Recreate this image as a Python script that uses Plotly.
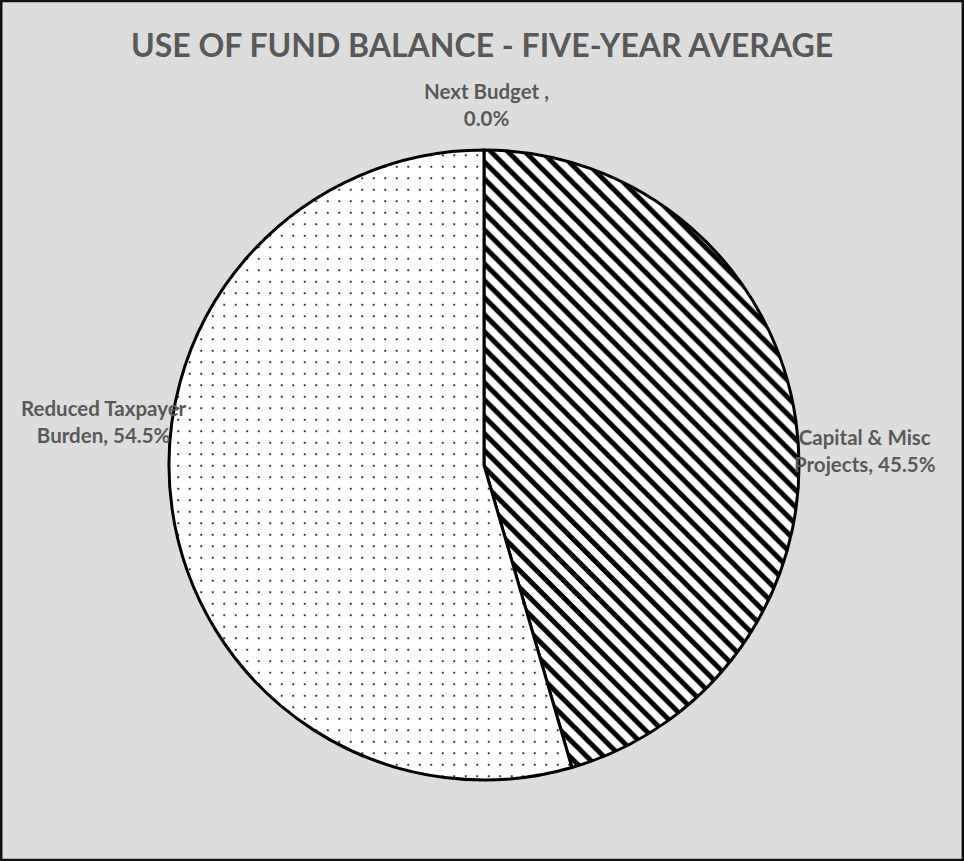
import plotly.graph_objects as go

labels = ["Next Budget ", "Capital & Misc Projects", "Reduced Taxpayer Burden"]
label_lines = [["Next Budget ,", ""], ["Capital & Misc", "Projects, "], ["Reduced Taxpayer", "Burden, "]]
values = [0.0, 45.5, 54.5]
title_text = "USE OF FUND BALANCE - FIVE-YEAR AVERAGE"

W, H = 964, 861
cx, cy, r = 484, 465, 315
FONT = "Lato"
LABEL_COLOR = "#595959"

total = sum(values)
pct = [v / total * 100 for v in values]
label_texts = [f"<b>{a}<br>{b}{p:.1f}%</b>" for (a, b), p in zip(label_lines, pct)]
# label block centres (paper pixels, from top-left)
label_pos = [(486, 104), (865, 450), (104, 421)]

fig = go.Figure()
fig.add_trace(go.Pie(
    labels=labels,
    values=values,
    textinfo="none",
    sort=False,
    direction="clockwise",
    rotation=0,
    showlegend=False,
    marker=dict(
        colors=["white", "white", "white"],
        line=dict(color="black", width=3),
        pattern=dict(
            shape=["", "\\", "."],
            fgcolor="black",
            bgcolor="white",
            size=[10, 12, 11.5],
            solidity=[0.3, 0.42, 0.026],
            fillmode="replace",
        ),
    ),
    domain=dict(x=[(cx - r) / W, (cx + r) / W], y=[(H - cy - r) / H, (H - cy + r) / H]),
))

annotations = []
for t, (px, py) in zip(label_texts, label_pos):
    annotations.append(dict(
        text=t, xref="paper", yref="paper", x=px / W, y=1 - py / H,
        xanchor="center", yanchor="middle", showarrow=False, align="center",
        font=dict(family=FONT, size=20.5, color=LABEL_COLOR),
    ))

fig.update_layout(
    width=W, height=H,
    margin=dict(l=0, r=0, t=0, b=0),
    paper_bgcolor="#dddddd",
    plot_bgcolor="#dddddd",
    title=dict(text="<b>" + title_text + "</b>", x=0.5, xanchor="center", y=1 - 46 / H, yanchor="middle",
               font=dict(family=FONT, size=32, color=LABEL_COLOR)),
    annotations=annotations,
    shapes=[dict(type="rect", xref="paper", yref="paper", x0=0.001, y0=0.001, x1=0.999, y1=0.999,
                 line=dict(color="#111111", width=3))],
)

fig.write_html("out.html", config={"displayModeBar": False},
               post_script="document.body.style.margin='0px';document.body.style.overflow='hidden';")
